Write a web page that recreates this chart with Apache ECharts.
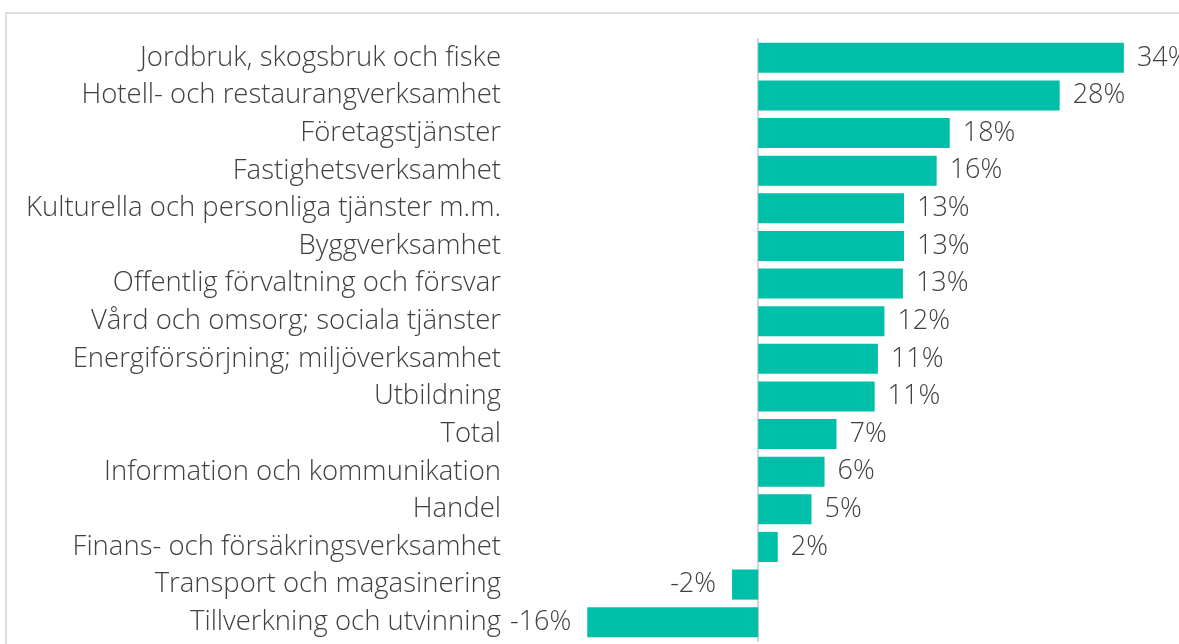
<!DOCTYPE html>
<html>
<head>
<meta charset="utf-8">
<style>
  html, body { margin: 0; padding: 0; background: #fff; }
  #main { width: 1179px; height: 644px; }
</style>
<script src="https://cdn.jsdelivr.net/npm/echarts@6/dist/echarts.min.js"></script>
</head>
<body>
<div id="main"></div>
<script>
var myChart = echarts.init(document.getElementById('main'));

// branscher, uppifrån och ned
var categories = [
    'Jordbruk, skogsbruk och fiske',
    'Hotell- och restaurangverksamhet',
    'Företagstjänster',
    'Fastighetsverksamhet',
    'Kulturella och personliga tjänster m.m.',
    'Byggverksamhet',
    'Offentlig förvaltning och försvar',
    'Vård och omsorg; sociala tjänster',
    'Energiförsörjning; miljöverksamhet',
    'Utbildning',
    'Total',
    'Information och kommunikation',
    'Handel',
    'Finans- och försäkringsverksamhet',
    'Transport och magasinering',
    'Tillverkning och utvinning'
];
// förändring i procent
var values = [33.6, 27.7, 17.6, 16.4, 13.4, 13.4, 13.3, 11.6, 11.0, 10.7, 7.2, 6.1, 4.9, 1.8, -2.4, -15.7];

var textColor = '#404040';
var font = 'Open Sans';

var option = {
    animation: false,
    grid: {
        left: 584,
        right: 29,
        top: 39,
        bottom: 3,
        outerBoundsMode: 'none',
        containLabel: false
    },
    graphic: [{
        type: 'rect',
        shape: { x: 6, y: 13, width: 1300, height: 800 },
        style: { fill: 'none', stroke: '#dcdcdc', lineWidth: 2 },
        silent: true
    }],
    xAxis: {
        type: 'value',
        min: -16,
        max: 36,
        show: false
    },
    yAxis: {
        type: 'category',
        inverse: true,
        data: categories,
        axisLine: { show: true, onZero: true, lineStyle: { color: '#d4d4d4', width: 2 } },
        axisTick: { show: false },
        axisLabel: {
            margin: 83,
            color: textColor,
            fontFamily: font,
            fontSize: 27.5,
            fontWeight: 300,
            padding: [3, 0, 0, 0]
        }
    },
    series: [{
        type: 'bar',
        barCategoryGap: '20%',
        itemStyle: { color: '#00bfa8' },
        data: values.map(function (v) {
            return {
                value: v,
                label: {
                    position: v < 0 ? 'left' : 'right',
                    distance: v < 0 ? 16 : 13
                }
            };
        }),
        label: {
            show: true,
            color: textColor,
            fontFamily: font,
            fontSize: 27,
            fontWeight: 300,
            padding: [3, 0, 0, 0],
            formatter: function (p) {
                return Math.round(p.value) + '%';
            }
        }
    }]
};
myChart.setOption(option);
</script>
</body>
</html>
